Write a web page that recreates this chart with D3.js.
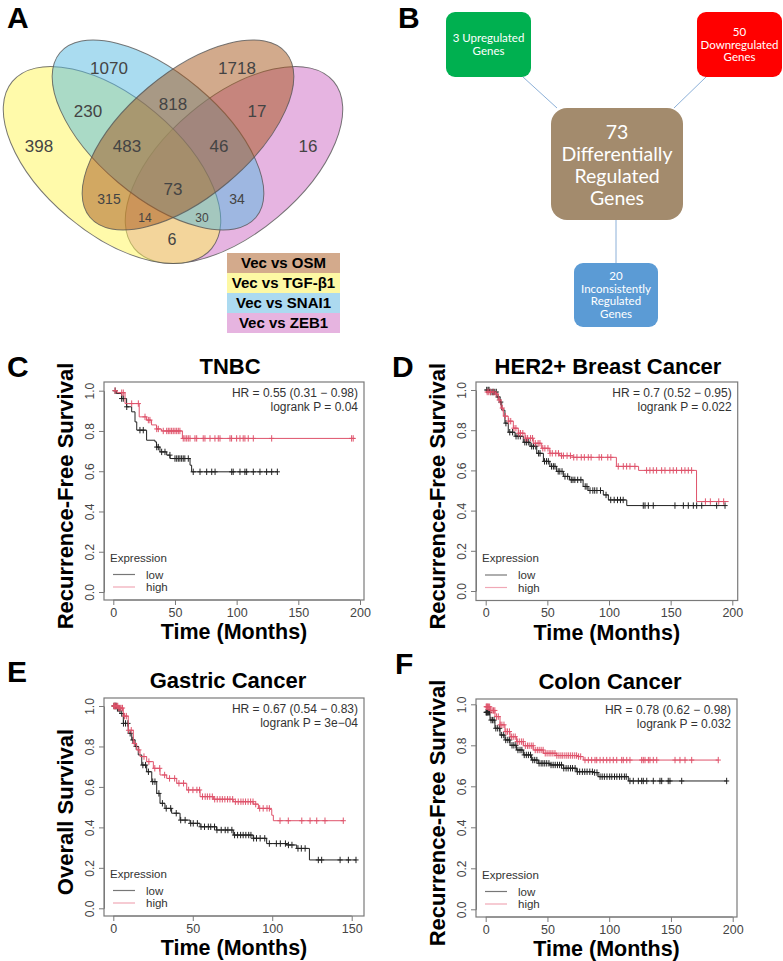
<!DOCTYPE html>
<html><head><meta charset="utf-8">
<script src="https://cdn.jsdelivr.net/npm/d3@7"></script>
<style>body{margin:0;background:#fff}svg{display:block}</style>
</head><body><svg id="c" width="783" height="961"></svg>
<script>
// ---------------- DATA ----------------
const vennSets = ["Vec vs OSM", "Vec vs TGF-\u03b21", "Vec vs SNAI1", "Vec vs ZEB1"];
const vennCounts = [1070, 1718, 230, 818, 17, 398, 483, 46, 16, 73, 315, 34, 14, 30, 6];

const geneCounts = [73, 3, 50, 20];
const geneLabels = [["73", "Differentially", "Regulated", "Genes"], ["3 Upregulated", "Genes"], ["50", "Downregulated", "Genes"], ["20", "Inconsistently", "Regulated", "Genes"]];

const panelTitles = ["TNBC", "HER2+ Breast Cancer", "Gastric Cancer", "Colon Cancer"];
const panelYLabels = ["Recurrence-Free Survival", "Recurrence-Free Survival", "Overall Survival", "Recurrence-Free Survival"];
const panelStats = [["HR = 0.55 (0.31 \u2212 0.98)", "logrank P = 0.04"], ["HR = 0.7 (0.52 \u2212 0.95)", "logrank P = 0.022"], ["HR = 0.67 (0.54 \u2212 0.83)", "logrank P = 3e\u221204"], ["HR = 0.78 (0.62 \u2212 0.98)", "logrank P = 0.032"]];
const xTicksLong = [0, 50, 100, 150, 200];
const xTicksShort = [0, 50, 100, 150];
const yTicks = [0, 0.2, 0.4, 0.6, 0.8, 1.0];

// TNBC
const cLowT = [0, 2.5, 6.8, 10.8, 14.9, 17.6, 19, 27, 33.8, 35, 37.8, 43.3, 46, 62.2, 63.5];
const cLowS = [1, 0.986, 0.961, 0.92, 0.895, 0.845, 0.804, 0.754, 0.746, 0.72, 0.696, 0.68, 0.663, 0.63, 0.597];
const cLowEnd = 133;
const cLowCens = [1.5, 6.8, 8.1, 10.9, 21.6, 24.3, 35.2, 36.5, 39.2, 41.9, 45.9, 50, 51.4, 52.7, 54, 55.4, 56.7, 58, 60.8, 64.8, 70.3, 75.7, 79.8, 82.5, 96, 97.2, 102.7, 106.7, 108.1, 113.5, 118.9, 124.3, 128.4, 133];
const cHighT = [0, 3, 9.5, 21, 27, 31, 35, 39, 56];
const cHighS = [1, 0.99, 0.936, 0.87, 0.854, 0.83, 0.81, 0.80, 0.763];
const cHighEnd = 196;
const cHighCens = [1.4, 6.8, 8.1, 14.9, 20.3, 25.7, 28.4, 29.7, 35.2, 36.5, 40.5, 43.3, 44.6, 45.9, 47.3, 48.6, 50, 51.4, 52.7, 54, 56.7, 58.1, 59.5, 60.8, 62.2, 66.2, 67.6, 72.9, 74.3, 78.4, 82.4, 85.1, 86.5, 94.6, 95.9, 100, 102.7, 105.3, 106.7, 109.4, 113.5, 128.4, 193.2, 194.5];

// HER2+
const dLowT = [0, 3.5, 9, 11.6, 13, 15.6, 18.3, 23.8, 30.5, 36, 41.4, 46.8, 52, 57.5, 63, 68, 79, 83, 95.4, 99.5, 114.4];
const dLowS = [1, 0.99, 0.965, 0.94, 0.90, 0.835, 0.79, 0.77, 0.74, 0.72, 0.685, 0.645, 0.62, 0.595, 0.57, 0.553, 0.52, 0.50, 0.478, 0.453, 0.425];
const dLowEnd = 194;
const dLowCens = [0.8, 1.9, 2.7, 4.1, 5.3, 6.2, 7.4, 8.6, 10.1, 12.2, 16.4, 19.5, 21.8, 24.6, 26.3, 28.1, 31.7, 33.2, 34.9, 37.3, 38.8, 40.6, 42.9, 44.1, 47.7, 49.3, 50.8, 53.4, 54.9, 56.2, 58.8, 60.1, 61.9, 64.3, 66.5, 69.4, 70.8, 72.3, 74.6, 77.2, 80.7, 82.1, 84.6, 86.9, 88.4, 90.2, 93.1, 97.6, 101.4, 104.2, 106.9, 109.3, 111.5, 127.8, 129.2, 131.9, 135.9, 153.5, 160.3, 164.3, 168.4, 171.1, 175.2, 187.3, 194.1];
const dHighT = [0, 8, 10.2, 12.4, 14.3, 18.3, 22.4, 26.4, 31.9, 38.6, 45.4, 52, 60, 71, 106, 124, 171];
const dHighS = [0.99, 0.98, 0.95, 0.91, 0.87, 0.845, 0.81, 0.785, 0.76, 0.735, 0.71, 0.685, 0.673, 0.665, 0.62, 0.60, 0.445];
const dHighEnd = 197;
const dHighCens = [1.2, 2.5, 3.8, 6, 8.5, 11, 13.5, 16, 18.7, 20.3, 22.9, 24.5, 26.8, 28.2, 30.1, 32.5, 34, 36.4, 38, 40.2, 42.5, 44, 46.3, 48, 50.5, 52.2, 54, 56.8, 59, 61.5, 63, 66, 68.7, 71.4, 74, 77.5, 80, 83.2, 85.5, 92, 94, 99, 101.5, 107.5, 111.6, 114.3, 117, 121, 130.5, 133.2, 135.9, 138.6, 142.7, 145.4, 149.4, 152.1, 154.8, 158.9, 161.6, 164.3, 167, 178.2, 182.2, 189, 193];

// Gastric
const eLowT = [0, 2, 4.2, 6.3, 9.4, 11.6, 13.7, 15.7, 17.9, 21, 24.2, 27.3, 29.4, 32.5, 36.7, 42, 48.3, 54.6, 65, 75.5, 88, 96.5, 109, 115.4, 123.4];
const eLowS = [1, 0.988, 0.963, 0.914, 0.865, 0.832, 0.80, 0.758, 0.708, 0.675, 0.626, 0.568, 0.519, 0.494, 0.47, 0.436, 0.42, 0.403, 0.387, 0.362, 0.346, 0.32, 0.313, 0.296, 0.239];
const eLowEnd = 152.8;
const eLowCens = [0.4, 0.9, 1.4, 1.9, 2.6, 3.2, 4.1, 5.3, 6.4, 7.7, 9.2, 10.6, 12.3, 14.4, 18.6, 20.3, 22.1, 24.8, 26.2, 28.7, 30.9, 33.3, 36.1, 39.6, 42.4, 45.2, 48.7, 50.3, 52.9, 55.2, 57.4, 59.8, 61.3, 63.7, 65.2, 67.9, 70.4, 72.1, 74.6, 76.3, 78.2, 80.1, 81.7, 83.4, 85.2, 86.6, 88.3, 90.1, 92.4, 95.3, 98.2, 102.6, 105.1, 108.3, 110.2, 112.4, 116.2, 118.3, 120.7, 129, 131.1, 142.7, 147.9, 152.7];
const eHighT = [0, 3, 6.3, 9.4, 12.6, 14.7, 16.8, 21, 25.2, 29.4, 33.6, 39.9, 46.2, 54.6, 63, 75.5, 88, 91.3, 98.6, 99.7, 100.7];
const eHighS = [1, 0.99, 0.95, 0.88, 0.815, 0.783, 0.75, 0.725, 0.692, 0.659, 0.642, 0.618, 0.585, 0.552, 0.539, 0.527, 0.515, 0.494, 0.489, 0.46, 0.433];
const eHighEnd = 144.7;
const eHighCens = [0.3, 0.8, 1.2, 1.7, 2.3, 2.8, 3.4, 4.1, 4.9, 5.8, 7.1, 8.2, 9.6, 11.3, 13.2, 16.1, 19.3, 22.4, 26.1, 29.2, 32.3, 35.4, 38.6, 41.3, 44.2, 47.4, 50.1, 52.6, 54.3, 56.1, 57.8, 59.2, 60.7, 62.3, 63.8, 65.4, 67.1, 68.6, 70.2, 71.9, 73.4, 75.1, 76.8, 78.6, 80.3, 81.7, 83.2, 84.8, 86.4, 87.9, 89.6, 92.1, 94.3, 96.7, 98.2, 104.9, 110.1, 118.6, 123.8, 128, 133.2, 144.7];

// Colon
const fLowT = [0, 3.5, 7.5, 11.6, 15.6, 19.7, 25, 30.5, 37, 42.6, 52, 63, 73.7, 87, 91, 115.5];
const fLowS = [0.961, 0.923, 0.883, 0.85, 0.826, 0.80, 0.777, 0.753, 0.728, 0.712, 0.704, 0.688, 0.671, 0.667, 0.647, 0.626];
const fLowEnd = 195.6;
const fLowCens = [0.3, 0.7, 1.1, 1.6, 2.2, 3.1, 4.3, 5.6, 6.8, 8.2, 9.7, 11.3, 12.9, 14.6, 16.2, 17.9, 19.4, 21.3, 22.8, 24.4, 26.1, 27.8, 29.3, 31.2, 32.9, 34.6, 36.3, 38.1, 39.7, 41.4, 43.2, 44.9, 46.3, 47.8, 49.4, 51.2, 52.9, 54.6, 56.3, 58.1, 59.8, 61.4, 63.2, 65.1, 66.8, 68.7, 70.3, 72.4, 74.2, 76.1, 78.3, 80.2, 82.1, 84.3, 86.4, 88.2, 90.1, 92.6, 94.3, 96.1, 98.2, 100.4, 102.1, 104.3, 106.2, 108.4, 110.1, 112.3, 113.8, 116.8, 119.5, 123.6, 126.3, 127.6, 130.4, 135.7, 141.1, 142.5, 147.8, 149.2, 158.7, 195.1];
const fHighT = [0, 3.5, 7.5, 11.6, 15.6, 19.7, 25, 30.5, 38.5, 46.6, 57.5, 75, 79];
const fHighS = [0.988, 0.97, 0.94, 0.90, 0.867, 0.842, 0.818, 0.798, 0.777, 0.761, 0.75, 0.745, 0.728];
const fHighEnd = 188;
const fHighCens = [0.4, 0.9, 1.3, 1.8, 2.4, 3.2, 4.1, 5.2, 6.3, 7.4, 8.8, 10.2, 11.7, 13.1, 14.8, 16.3, 17.6, 19.2, 20.8, 22.3, 23.9, 25.6, 27.2, 28.9, 30.4, 32.1, 33.8, 35.2, 36.9, 38.4, 40.1, 41.8, 43.3, 44.9, 46.5, 48.2, 49.7, 51.3, 52.8, 54.4, 56.1, 57.6, 59.3, 60.9, 62.4, 64.1, 65.7, 67.2, 68.8, 70.4, 72.1, 73.6, 75.2, 76.9, 80.4, 83.1, 85.8, 88.5, 89.9, 92.6, 95.2, 98, 100.6, 103.3, 106.1, 110.1, 111.4, 114.2, 116.8, 126.3, 127.6, 129, 131.7, 133, 135.7, 138.5, 153.3, 157.3, 161.4, 166.8, 188.3];

// ---------------- LAYOUT ----------------
const svg = d3.select("#c");
svg.append("rect").attr("width", 783).attr("height", 961).attr("fill", "#fff");
const SANS = "'Liberation Sans', Arial, Helvetica, sans-serif";

function letter(t, x, y) {
  svg.append("text").attr("x", x).attr("y", y).text(t)
    .attr("font-family", SANS).attr("font-weight", "bold").attr("font-size", 30).attr("fill", "#000");
}

// ---- Panel A: Venn ----
letter("A", 7, 28);
// drawing order: ZEB1 (bottom), TGF-b1, SNAI1, OSM (top)
const vennShapes = [
  {cx: 234, cy: 165, rx: 130, ry: 68, rot: -40, fill: "#cd69c3"},  // ZEB1
  {cx: 112, cy: 165, rx: 130, ry: 68, rot: 40, fill: "#fff555"},   // TGF-b1
  {cx: 158, cy: 135, rx: 128, ry: 62, rot: 40, fill: "#55b9e1"},   // SNAI1
  {cx: 188, cy: 135, rx: 128, ry: 62, rot: -40, fill: "#a55519"}   // OSM
];
const gV = svg.append("g");
gV.selectAll("ellipse").data(vennShapes).join("ellipse")
  .attr("cx", d => d.cx).attr("cy", d => d.cy).attr("rx", d => d.rx).attr("ry", d => d.ry)
  .attr("transform", d => `rotate(${d.rot},${d.cx},${d.cy})`)
  .attr("fill", d => d.fill).attr("fill-opacity", 0.5)
  .attr("stroke", "#555").attr("stroke-opacity", 0.8).attr("stroke-width", 1);
const vennLabelPos = [[109, 68, 17], [237, 68, 17], [88, 111, 17], [173, 104, 17], [257, 111, 17], [39, 146, 17], [127, 146, 17], [219, 146, 17], [308, 146, 17], [173, 189, 17], [109, 199, 14], [237, 199, 14], [145, 218, 12], [202, 218, 12], [172, 239, 16]];
gV.selectAll("text").data(vennCounts).join("text")
  .attr("x", (d, i) => vennLabelPos[i][0]).attr("y", (d, i) => vennLabelPos[i][1])
  .attr("dy", "0.36em").attr("text-anchor", "middle")
  .attr("font-family", SANS).attr("font-size", (d, i) => vennLabelPos[i][2]).attr("fill", "#444")
  .text(d => d);
const legendColors = ["#d3aa8c", "#fdf8a4", "#acdaf0", "#e6b4e0"];
const gL = svg.append("g");
vennSets.forEach((s, i) => {
  gL.append("rect").attr("x", 227).attr("y", 253 + i * 20).attr("width", 113).attr("height", 20).attr("fill", legendColors[i]);
  gL.append("text").attr("x", 283.5).attr("y", 263 + i * 20).attr("dy", "0.36em").attr("text-anchor", "middle")
    .attr("font-family", SANS).attr("font-weight", "bold").attr("font-size", 15).attr("fill", "#000").text(s);
});

// ---- Panel B ----
letter("B", 398, 28);
const BFONT = "Lato, 'Open Sans', sans-serif";
const bBoxes = [
  {x: 551, y: 108, w: 132, h: 112, r: 16, fill: "#a38b6d", fs: 19.5, lh: 22, ty: 132},
  {x: 446, y: 12, w: 85, h: 65, r: 9, fill: "#00b050", fs: 11.5, lh: 13, ty: 38},
  {x: 697, y: 12, w: 85, h: 65, r: 9, fill: "#ff0000", fs: 11.5, lh: 12.5, ty: 32},
  {x: 574, y: 263, w: 84, h: 64, r: 9, fill: "#5b9bd5", fs: 11.5, lh: 12.6, ty: 276}
];
const conn = [[523, 77, 557, 108], [706, 77, 674, 108], [616, 220, 616, 263]];
svg.selectAll("line.conn").data(conn).join("line").attr("class", "conn")
  .attr("x1", d => d[0]).attr("y1", d => d[1]).attr("x2", d => d[2]).attr("y2", d => d[3])
  .attr("stroke", "#8cb0d8").attr("stroke-width", 1);
geneCounts.forEach((c, i) => {
  const b = bBoxes[i];
  svg.append("rect").attr("x", b.x).attr("y", b.y).attr("width", b.w).attr("height", b.h)
    .attr("rx", b.r).attr("fill", b.fill);
  const t = svg.append("text").attr("text-anchor", "middle").attr("font-family", BFONT)
    .attr("font-size", b.fs).attr("fill", "#fff");
  geneLabels[i].forEach((ln, j) => {
    t.append("tspan").attr("x", b.x + b.w / 2).attr("y", b.ty + j * b.lh).attr("dy", "0.36em").text(ln);
  });
});

// ---- KM panels ----
const panels = [
  {L: "C", lx: 7, ly: 377, box: [104, 382, 364, 600], xd: [0, 200], xr: [113.3, 360], yr: [592, 390.7], ticks: xTicksLong, titleX: 230, titleDy: -8,
   low: [cLowT, cLowS, cLowEnd, cLowCens], high: [cHighT, cHighS, cHighEnd, cHighCens]},
  {L: "D", lx: 392, ly: 377, box: [476, 382, 737.7, 600.5], xd: [0, 200], xr: [485.7, 732.3], yr: [591, 390], ticks: xTicksLong, titleX: 608, titleDy: -8,
   low: [dLowT, dLowS, dLowEnd, dLowCens], high: [dHighT, dHighS, dHighEnd, dHighCens]},
  {L: "E", lx: 7, ly: 682, box: [104, 698, 364, 916], xd: [0, 150], xr: [113.3, 351.7], yr: [908.3, 706], ticks: xTicksShort, titleX: 228, titleDy: -10,
   low: [eLowT, eLowS, eLowEnd, eLowCens], high: [eHighT, eHighS, eHighEnd, eHighCens]},
  {L: "F", lx: 395, ly: 674, box: [476, 699, 737, 917], xd: [0, 200], xr: [485.7, 732.7], yr: [909.3, 704.3], ticks: xTicksLong, titleX: 610, titleDy: -10,
   low: [fLowT, fLowS, fLowEnd, fLowCens], high: [fHighT, fHighS, fHighEnd, fHighCens]}
];
const LOWC = "#222", HIGHC = "#df536b";
const AXC = "#7a7a7a";

function stepAt(T, S, t) {
  let s = S[0];
  for (let i = 0; i < T.length; i++) if (T[i] <= t) s = S[i];
  return s;
}

panels.forEach((p, k) => {
  const [bx0, by0, bx1, by1] = p.box;
  const x = d3.scaleLinear().domain(p.xd).range(p.xr);
  const y = d3.scaleLinear().domain([0, 1]).range(p.yr);
  const g = svg.append("g");
  letter(p.L, p.lx, p.ly);
  g.append("text").attr("x", p.titleX).attr("y", by0 + p.titleDy).attr("text-anchor", "middle")
    .attr("font-family", SANS).attr("font-weight", "bold").attr("font-size", 22).attr("fill", "#000").text(panelTitles[k]);
  const yc = (by0 + by1) / 2 + 5;
  g.append("text").attr("transform", `translate(${bx0 - 31},${yc}) rotate(-90)`).attr("text-anchor", "middle")
    .attr("font-family", SANS).attr("font-weight", "bold").attr("font-size", 22).attr("fill", "#000").text(panelYLabels[k]);
  g.append("text").attr("x", (bx0 + bx1) / 2).attr("y", by1 + 39).attr("text-anchor", "middle")
    .attr("font-family", SANS).attr("font-weight", "bold").attr("font-size", 21.5).attr("fill", "#000").text("Time (Months)");
  g.append("rect").attr("x", bx0).attr("y", by0).attr("width", bx1 - bx0).attr("height", by1 - by0)
    .attr("fill", "none").attr("stroke", AXC).attr("stroke-width", 1.2);
  const xa = g.append("g").attr("transform", `translate(0,${by1})`)
    .call(d3.axisBottom(x).tickValues(p.ticks).tickSize(5).tickSizeOuter(0).tickFormat(d3.format("d")));
  xa.select(".domain").attr("stroke", AXC).attr("d", `M${x(p.ticks[0])},0H${x(p.ticks[p.ticks.length - 1])}`);
  xa.selectAll(".tick line").attr("stroke", AXC);
  xa.selectAll(".tick text").attr("font-family", SANS).attr("font-size", 12.5).attr("fill", "#444").attr("y", 8).attr("dy", "0.71em");
  const ya = g.append("g").attr("transform", `translate(${bx0},0)`)
    .call(d3.axisLeft(y).tickValues(yTicks).tickSize(5).tickSizeOuter(0).tickFormat(d3.format(".1f")));
  ya.select(".domain").attr("stroke", AXC);
  ya.selectAll(".tick line").attr("stroke", AXC);
  ya.selectAll(".tick text").attr("font-family", SANS).attr("font-size", 12).attr("fill", "#444")
    .attr("x", null).attr("dy", null).attr("text-anchor", "middle")
    .attr("transform", "translate(-10,0) rotate(-90)");
  const line = d3.line().x(d => x(d[0])).y(d => y(d[1])).curve(d3.curveStepAfter);
  [[p.low, LOWC], [p.high, HIGHC]].forEach(([c, col]) => {
    const [T, S, end, cens] = c;
    const pts = T.map((t, i) => [t, S[i]]);
    pts.push([end, S[S.length - 1]]);
    g.append("path").attr("d", line(pts)).attr("fill", "none").attr("stroke", col).attr("stroke-width", 1);
    g.append("g").selectAll("path").data(cens).join("path")
      .attr("transform", t => `translate(${x(t)},${y(stepAt(T, S, t))})`)
      .attr("d", "M-2.6,0H2.6M0,-3.2V3.2").attr("stroke", col).attr("stroke-width", 1).attr("fill", "none");
  });
  panelStats[k].forEach((s, j) => {
    g.append("text").attr("x", bx1 - 6).attr("y", by0 + 15 + j * 14).attr("text-anchor", "end")
      .attr("font-family", SANS).attr("font-size", 12).attr("fill", "#333").text(s);
  });
  g.append("text").attr("x", bx0 + 6).attr("y", by1 - 38.5).attr("font-family", SANS).attr("font-size", 11.5).attr("fill", "#333").text("Expression");
  [["low", "#777"], ["high", "#f0a8b6"]].forEach(([lab, col], j) => {
    const yy = by1 - 25.5 + j * 12.5;
    g.append("line").attr("x1", bx0 + 9).attr("x2", bx0 + 31).attr("y1", yy).attr("y2", yy).attr("stroke", col).attr("stroke-width", 1.2);
    g.append("text").attr("x", bx0 + 42).attr("y", yy + 4).attr("font-family", SANS).attr("font-size", 11.5).attr("fill", "#333").text(lab);
  });
});
</script>
</body></html>
